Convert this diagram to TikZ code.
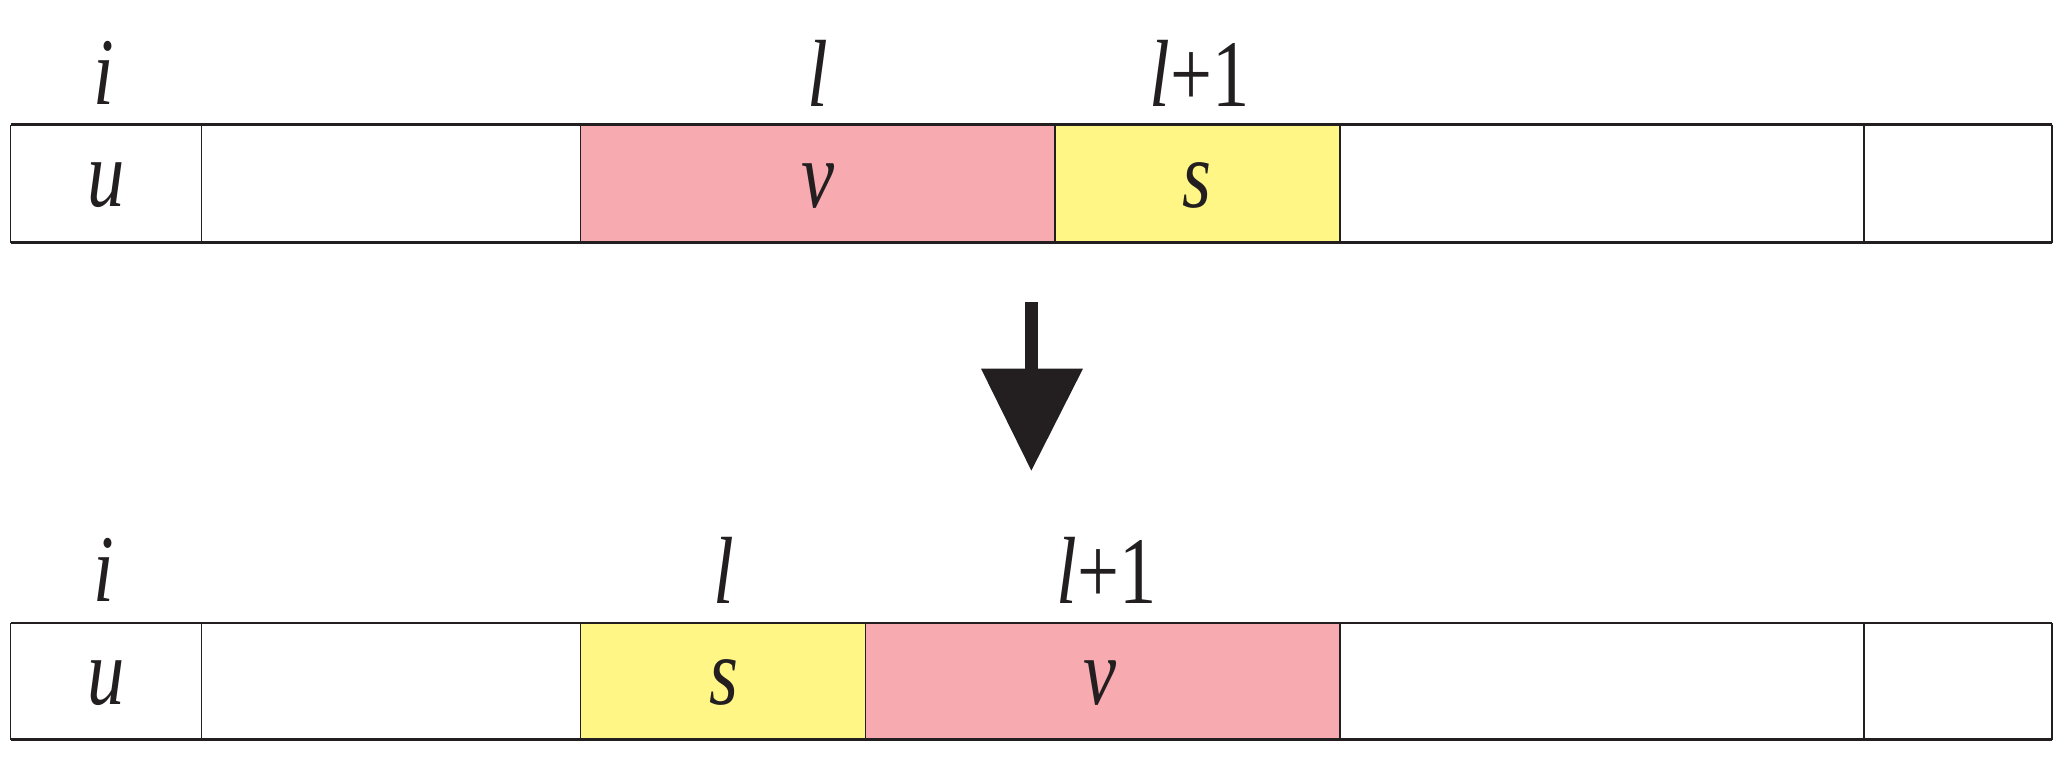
\documentclass[tikz,border=0pt]{standalone}
\usepackage{fontspec}
\setmainfont{Liberation Serif}
\definecolor{pinkc}{HTML}{F7ABB0}
\definecolor{yelc}{HTML}{FFF685}
\definecolor{ink}{HTML}{231F20}
\begin{document}
\begin{tikzpicture}[x=1pt,y=-1pt,
  cell/.style={draw=ink,line width=1.2pt},
  lab/.style={font=\fontsize{72}{72}\selectfont\itshape,text=ink,xscale=0.78,inner sep=0}]
\useasboundingbox (0,0) rectangle (1560,576);
% top row
\fill[pinkc] (438,94) rectangle (796,183);
\fill[yelc] (796,94) rectangle (1011,183);
\foreach \x in {8,152,438,796,1011,1406,1548} \draw[cell] (\x,94) -- (\x,183);
\draw[ink,line width=2pt] (8,94) -- (1548,94) (8,183) -- (1548,183);
% bottom row
\fill[yelc] (438,470) rectangle (653,558);
\fill[pinkc] (653,470) rectangle (1011,558);
\foreach \x in {8,152,438,653,1011,1406,1548} \draw[cell] (\x,470) -- (\x,558);
\draw[ink,line width=2pt] (8,470) -- (1548,470) (8,558) -- (1548,558);
% labels
\node[lab] (ti) at (78,55) {i};
\node[lab] (tl) at (617,55) {l};
\node[lab] (tl1) at (905,55) {l\textup{+1}};
\node[lab] (tu) at (80,140) {u};
\node[lab] (tv) at (617,140) {v};
\node[lab] (ts) at (903,140) {s};
\node[lab] (bi) at (78,430) {i};
\node[lab] (bl) at (546,430) {l};
\node[lab] (bl1) at (835,430) {l\textup{+1}};
\node[lab] (bu) at (80,515) {u};
\node[lab] (bs) at (546,515) {s};
\node[lab] (bv) at (830,515) {v};
% arrow
\coordinate (a1) at (778,228);
\coordinate (a2) at (778,280);
\fill[ink] (773,228) rectangle (783,281);
\fill[ink] (740,278) -- (817,278) -- (778,355) -- cycle;
\end{tikzpicture}
\end{document}
